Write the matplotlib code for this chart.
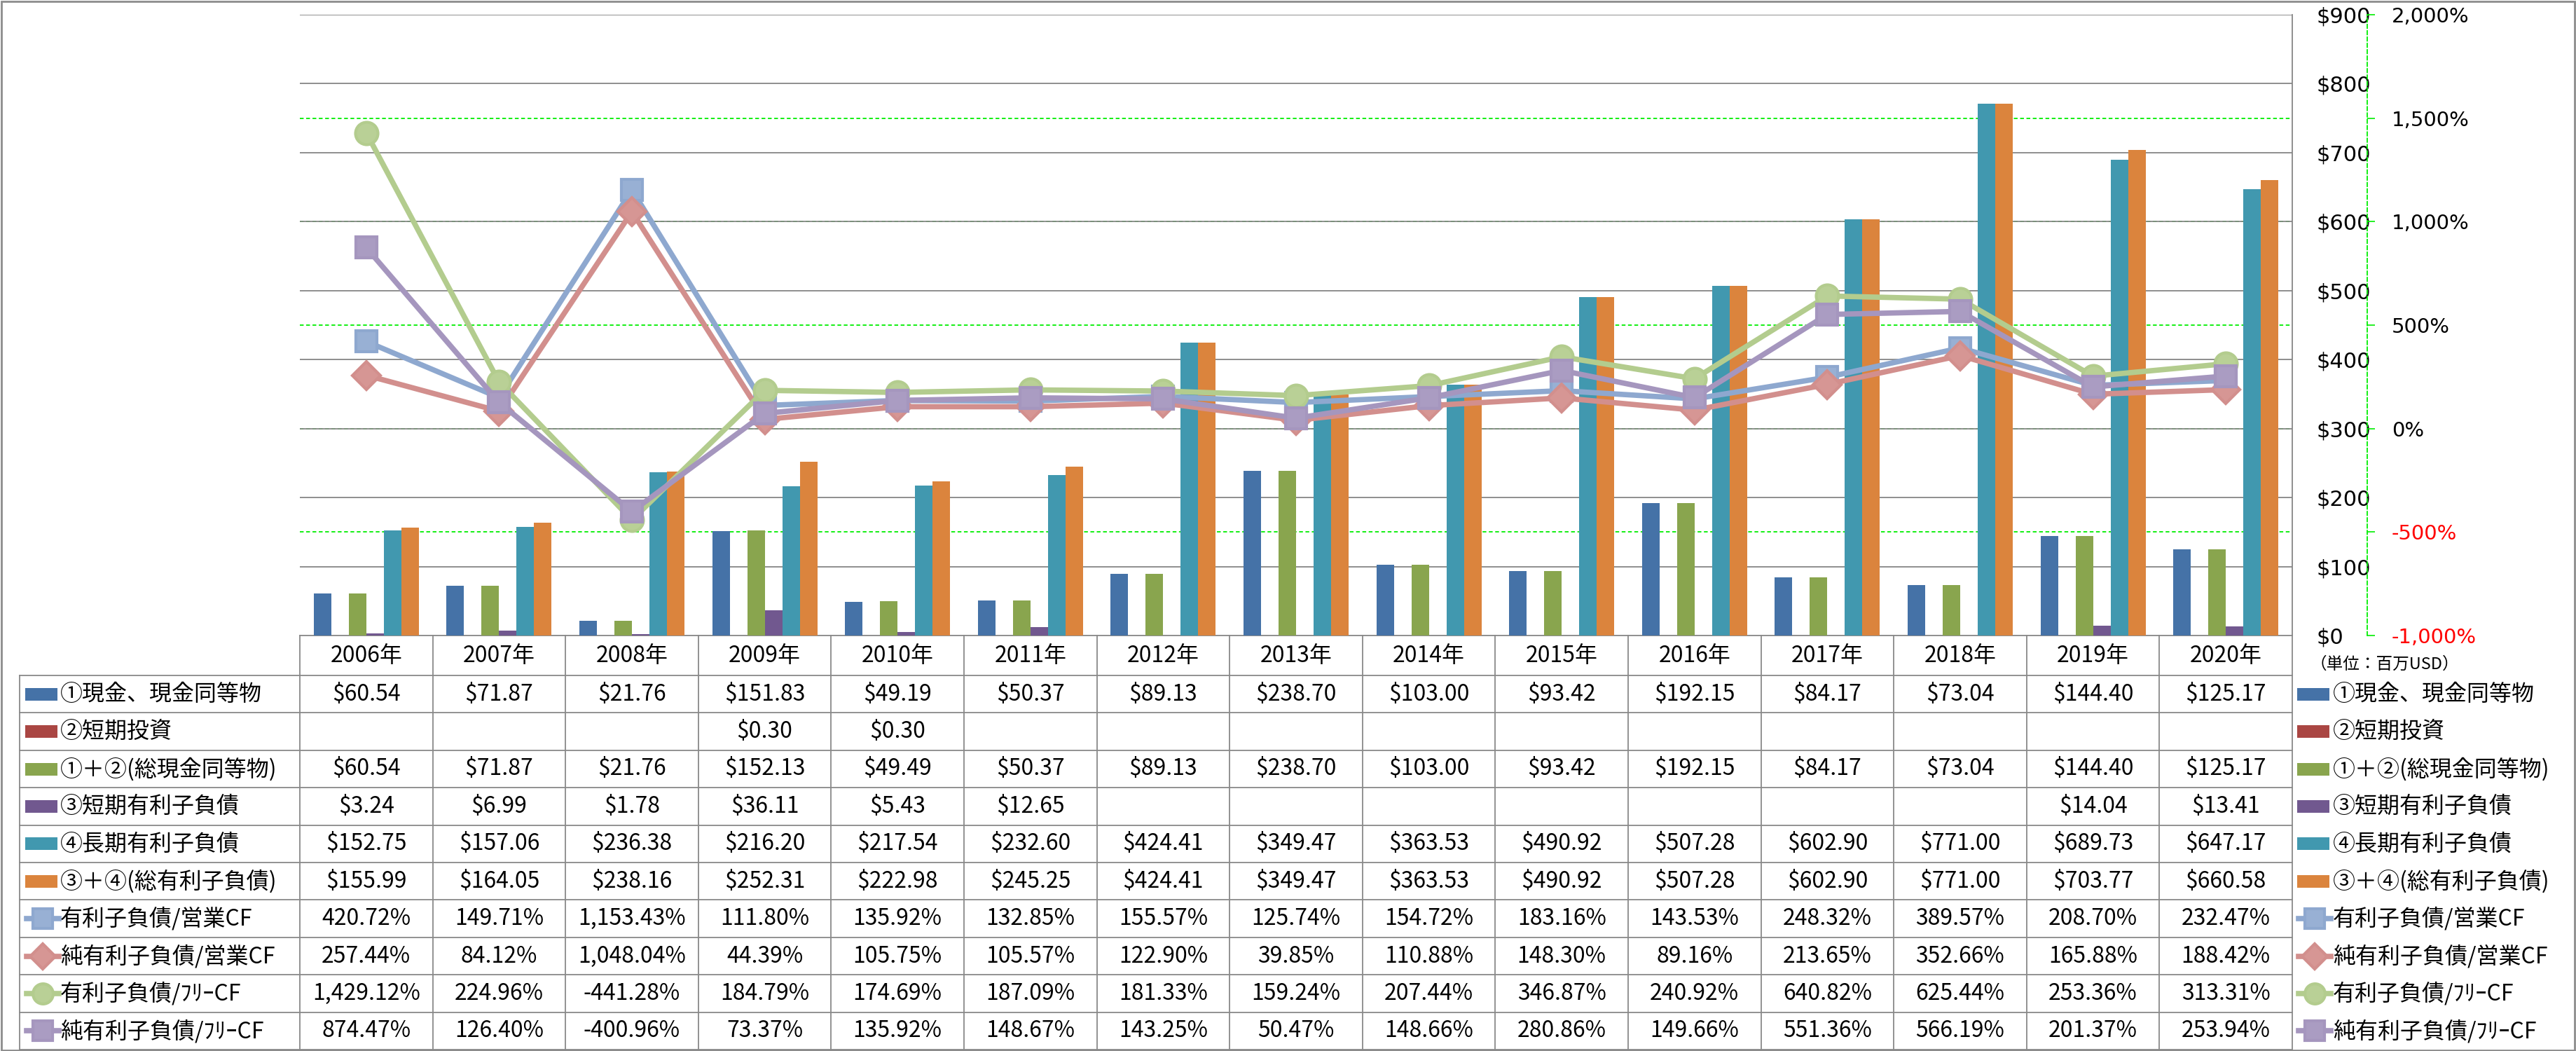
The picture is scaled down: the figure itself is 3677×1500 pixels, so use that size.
import matplotlib
matplotlib.use("Agg")
import matplotlib.pyplot as plt
import matplotlib.transforms as mtrans
from matplotlib.lines import Line2D
from matplotlib.patches import Rectangle
import numpy as np

# ---------------- data ----------------
years = ["2006年", "2007年", "2008年", "2009年", "2010年", "2011年", "2012年", "2013年",
         "2014年", "2015年", "2016年", "2017年", "2018年", "2019年", "2020年"]

cash = [60.54, 71.87, 21.76, 151.83, 49.19, 50.37, 89.13, 238.70, 103.00, 93.42, 192.15, 84.17, 73.04, 144.40, 125.17]
short_inv = [None, None, None, 0.30, 0.30, None, None, None, None, None, None, None, None, None, None]
total_cash = [60.54, 71.87, 21.76, 152.13, 49.49, 50.37, 89.13, 238.70, 103.00, 93.42, 192.15, 84.17, 73.04, 144.40, 125.17]
short_debt = [3.24, 6.99, 1.78, 36.11, 5.43, 12.65, None, None, None, None, None, None, None, 14.04, 13.41]
long_debt = [152.75, 157.06, 236.38, 216.20, 217.54, 232.60, 424.41, 349.47, 363.53, 490.92, 507.28, 602.90, 771.00, 689.73, 647.17]
total_debt = [155.99, 164.05, 238.16, 252.31, 222.98, 245.25, 424.41, 349.47, 363.53, 490.92, 507.28, 602.90, 771.00, 703.77, 660.58]

debt_ocf = [420.72, 149.71, 1153.43, 111.80, 135.92, 132.85, 155.57, 125.74, 154.72, 183.16, 143.53, 248.32, 389.57, 208.70, 232.47]
netdebt_ocf = [257.44, 84.12, 1048.04, 44.39, 105.75, 105.57, 122.90, 39.85, 110.88, 148.30, 89.16, 213.65, 352.66, 165.88, 188.42]
debt_fcf = [1429.12, 224.96, -441.28, 184.79, 174.69, 187.09, 181.33, 159.24, 207.44, 346.87, 240.92, 640.82, 625.44, 253.36, 313.31]
netdebt_fcf = [874.47, 126.40, -400.96, 73.37, 135.92, 148.67, 143.25, 50.47, 148.66, 280.86, 149.66, 551.36, 566.19, 201.37, 253.94]

bar_labels = ["①現金、現金同等物", "②短期投資", "①＋②(総現金同等物)", "③短期有利子負債",
              "④長期有利子負債", "③＋④(総有利子負債)"]
line_labels = ["有利子負債/営業CF", "純有利子負債/営業CF", "有利子負債/ﾌﾘｰCF", "純有利子負債/ﾌﾘｰCF"]

usd_ticks = [0, 100, 200, 300, 400, 500, 600, 700, 800, 900]
pct_ticks = [-1000, -500, 0, 500, 1000, 1500, 2000]
unit_label = "（単位：百万USD）"

bar_series = [cash, short_inv, total_cash, short_debt, long_debt, total_debt]
line_series = [debt_ocf, netdebt_ocf, debt_fcf, netdebt_fcf]

bar_colors = ["#4572A7", "#AA4643", "#89A54E", "#71588F", "#4198AF", "#DB843D"]
line_colors = ["#8EA8CF", "#D28F8D", "#B3CC8E", "#A596BE"]
line_face = ["#98B0D4", "#D69694", "#B9D096", "#AA9CC2"]
line_markers = ["s", "D", "o", "s"]
line_ms = [22, 20, 23, 22]

# ---------------- figure ----------------
W, H = 3677, 1500
DPI = 100
fig = plt.figure(figsize=(W / DPI, H / DPI), dpi=DPI)
jp = ["Noto Sans CJK JP", "DejaVu Sans"]
plt.rcParams["font.family"] = jp

X0, X1 = 428, 3272
YTOP, YBOT = 21, 907
ax = fig.add_axes([X0 / W, 1 - YBOT / H, (X1 - X0) / W, (YBOT - YTOP) / H])
n = len(years)
x = np.arange(n)
ax.set_xlim(-0.5, n - 0.5)
ax.set_ylim(0, 900)

bw = 25 / ((X1 - X0) / n)
for k, (vals, col) in enumerate(zip(bar_series, bar_colors)):
    v = [0 if a is None else a for a in vals]
    ax.bar(x + (k - 2.5) * bw, v, width=bw, color=col, zorder=3, linewidth=0)

grid_gray = "#868686"
for t in usd_ticks[1:]:
    ax.axhline(t, color=grid_gray, lw=1.3, zorder=1)

ax2 = ax.twinx()

for s in ["left", "top"]:
    ax.spines[s].set_visible(False)
ax.spines["bottom"].set_color(grid_gray)
ax.spines["bottom"].set_linewidth(1.3)
ax.spines["right"].set_visible(False)
ax.set_xticks([])
ax.yaxis.tick_right()
ax.yaxis.set_label_position("right")
ax.set_yticks(usd_ticks)
ax.set_yticklabels([f"${t}" for t in usd_ticks], fontfamily="DejaVu Sans", fontsize=22)
ax.tick_params(axis="y", which="both", left=False, right=True, labelleft=False,
               labelright=True, length=0, pad=25)
# primary axis line on the right edge of the plot
fig.add_artist(Line2D([X1 / W, X1 / W], [1 - YTOP / H, 1 - YBOT / H], transform=fig.transFigure,
                      color=grid_gray, lw=1.3))

ax2.set_ylim(-1000, 2000)
ax2.set_xlim(-0.5, n - 0.5)
for s in ["left", "top", "bottom"]:
    ax2.spines[s].set_visible(False)
ax2.spines["right"].set_position(("outward", (3379 - X1) * 72 / DPI))
ax2.spines["right"].set_color("#00EE00")
ax2.spines["right"].set_linestyle((0, (3, 2)))
ax2.spines["right"].set_linewidth(1.3)
ax2.set_yticks(pct_ticks)
ax2.set_yticklabels([f"{t:,}%" for t in pct_ticks], fontfamily="DejaVu Sans", fontsize=21)
for lbl, t in zip(ax2.get_yticklabels(), pct_ticks):
    lbl.set_color("red" if t < 0 else "black")
ax2.tick_params(axis="y", length=8, width=1.2, color="#00EE00", pad=17, direction="out")

# green dashed gridlines for percent axis (behind bars)
bt = mtrans.blended_transform_factory(ax.transAxes, ax2.transData)
for t in pct_ticks[1:-1]:
    ax.add_line(Line2D([0, 1], [t, t], transform=bt, color="#00EE00", lw=1.3,
                       ls=(0, (3, 2)), zorder=0.8))

for vals, col, fc, mk, ms in zip(line_series, line_colors, line_face, line_markers, line_ms):
    ax2.plot(x, vals, color=col, lw=5.5, marker=mk, ms=ms, mfc=fc, mec=col, mew=3,
             solid_joinstyle="round", zorder=5)

# ---------------- data table ----------------
def fy(ypx):
    return 1 - ypx / H

def fx(xpx):
    return xpx / W

tcol = "#898989"
bl = mtrans.blended_transform_factory(ax.transData, fig.transFigure)
HDR_BOT = 964
ROW_H = 53.4
nrows = 10
rows_y = [HDR_BOT + i * ROW_H for i in range(nrows + 1)]
TBL_BOT = rows_y[-1]
TL = 28

for yy in rows_y:
    fig.add_artist(Line2D([fx(TL), fx(X1)], [fy(yy), fy(yy)], transform=fig.transFigure,
                          color=tcol, lw=1.3))
fig.add_artist(Line2D([fx(TL), fx(TL)], [fy(HDR_BOT), fy(TBL_BOT)], transform=fig.transFigure, color=tcol, lw=1.3))
for i in range(n + 1):
    fig.add_artist(Line2D([i - 0.5, i - 0.5], [fy(YBOT), fy(TBL_BOT)], transform=bl, color=tcol, lw=1.3))

FS = 23
for i, yr in enumerate(years):
    fig.text(i, fy((YBOT + HDR_BOT) / 2), yr, transform=bl, ha="center", va="center",
             fontsize=FS, family=jp)

def fmt_usd(v):
    return "" if v is None else f"${v:,.2f}"

def fmt_pct(v):
    return f"{v:,.2f}%"

row_texts = [[fmt_usd(v) for v in s] for s in bar_series] + [[fmt_pct(v) for v in s] for s in line_series]
all_labels = bar_labels + line_labels

def draw_key(xl, yc, idx):
    if idx < 6:
        fig.add_artist(Rectangle((fx(xl), fy(yc + 9)), 46 / W, 18 / H, transform=fig.transFigure,
                                 facecolor=bar_colors[idx], edgecolor="none"))
    else:
        j = idx - 6
        fig.add_artist(Line2D([fx(xl + 2), fx(xl + 48)], [fy(yc), fy(yc)], transform=fig.transFigure,
                              color=line_colors[j], lw=5.5))
        fig.add_artist(Line2D([fx(xl + 25)], [fy(yc)], transform=fig.transFigure, ls="none",
                              marker=line_markers[j], ms=line_ms[j] * 0.9, mfc=line_face[j],
                              mec=line_colors[j], mew=3))

for r in range(nrows):
    yc = (rows_y[r] + rows_y[r + 1]) / 2
    draw_key(36, yc, r)
    fig.text(fx(86), fy(yc), all_labels[r], ha="left", va="center", fontsize=FS, family=jp)
    for i in range(n):
        t = row_texts[r][i]
        if t:
            fig.text(i, fy(yc), t, transform=bl, ha="center", va="center", fontsize=FS, family=jp)
    draw_key(3279, yc, r)
    fig.text(fx(3330), fy(yc), all_labels[r], ha="left", va="center", fontsize=FS, family=jp)

fig.text(fx(3298), fy(948), unit_label, ha="left", va="center", fontsize=17, family=jp)

fig.add_artist(Rectangle((0.0005, 0.001), 0.999, 0.998, transform=fig.transFigure,
                         facecolor="none", edgecolor="#8C8C8C", lw=2))

fig.savefig("out.png", dpi=DPI)
